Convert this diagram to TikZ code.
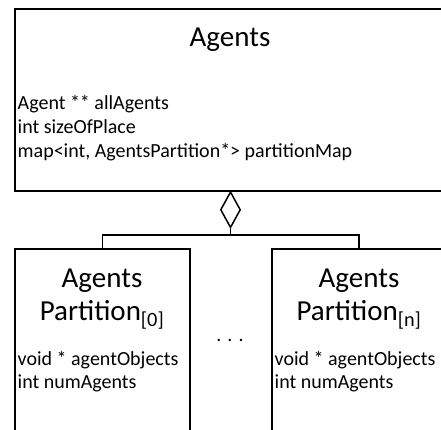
\documentclass[tikz,border=0pt]{standalone}
\usepackage{fontspec}
\setmainfont{Carlito}
\usetikzlibrary{shapes.geometric,fit}
\begin{document}
\begin{tikzpicture}[x=1pt,y=-1pt,
  umlbox/.style={draw,line width=2pt,rectangle,inner sep=0pt},
  titletext/.style={font=\fontsize{29}{34}\selectfont,inner sep=0pt,anchor=base},
  attrtext/.style={font=\fontsize{20}{24}\selectfont,inner sep=0pt,anchor=base west},
  conn/.style={line width=1.8pt}]
\useasboundingbox (0,0) rectangle (441,429);
% class boxes (they run past the right and bottom edges)
\coordinate (agNW) at (15,8.5);
\coordinate (agSE) at (460,191);
\coordinate (p0NW) at (15,249);
\coordinate (p0SE) at (190,450);
\coordinate (pnNW) at (272,249);
\coordinate (pnSE) at (446,450);
\node[umlbox,fit=(agNW)(agSE)] (agents) {};
\node[umlbox,fit=(p0NW)(p0SE)] (p0) {};
\node[umlbox,fit=(pnNW)(pnSE)] (pn) {};
% Agents class
\node[titletext] (agtitle) at (230,46) {Agents};
\node[attrtext] (a1) at (17.5,109) {Agent ** allAgents};
\node[attrtext] (a2) at (17.5,133) {int sizeOfPlace};
\node[attrtext] (a3) at (17.5,157) {map<int, AgentsPartition*> partitionMap};
% first partition
\node[titletext] (p0t1) at (102,287) {Agents};
\node[titletext] (p0t2) at (102,320) {Partition\textsubscript{[0]}};
\node[attrtext] (p0a1) at (17.5,365) {void * agentObjects};
\node[attrtext] (p0a2) at (17.5,388) {int numAgents};
% last partition
\node[titletext] (pnt1) at (359,287) {Agents};
\node[titletext] (pnt2) at (359,320) {Partition\textsubscript{[n]}};
\node[attrtext] (pna1) at (274.5,365) {void * agentObjects};
\node[attrtext] (pna2) at (274.5,388) {int numAgents};
% ellipsis between partitions
\node[font=\fontsize{20}{24}\selectfont,inner sep=0pt] (dots) at (230,340) {. . .};
% aggregation
\node[draw,diamond,line width=1.5pt,minimum width=20pt,minimum height=36pt,inner sep=0pt,anchor=north] (dia) at (230.5,191) {};
\coordinate (bar) at (230.5,235);
\draw[conn] (dia.south) -- (bar);
\draw[conn] (p0.north) |- (bar) -| (pn.north);
\end{tikzpicture}
\end{document}
